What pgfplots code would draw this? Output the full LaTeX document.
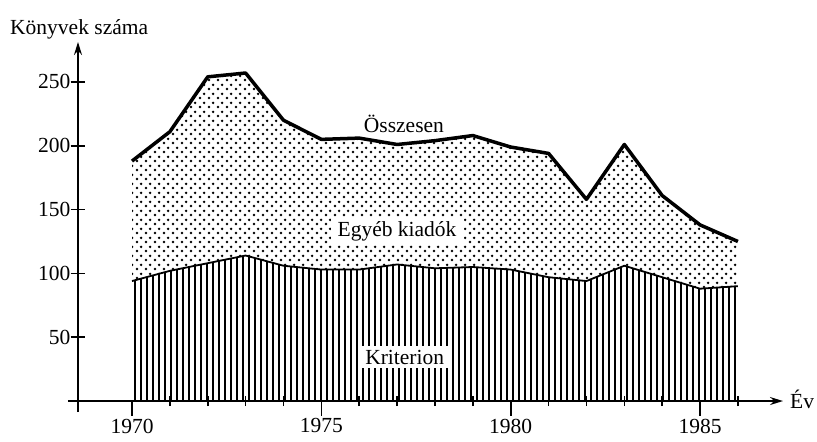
\documentclass[border=0pt]{standalone}
\usepackage{pgfplots}
\pgfplotsset{compat=1.18}
\usepackage{pgfplotstable}
\usepackage{fontspec}
\setmainfont{Liberation Serif}
\usetikzlibrary{patterns.meta,arrows.meta}

\tikzdeclarepattern{
  name=kvlines,
  bounding box={(0,0) and (6.4bp,6.4bp)},
  tile size={(6.4bp,6.4bp)},
  code={\fill (0,0) rectangle (2.1bp,6.4bp);}
}
\tikzdeclarepattern{
  name=kdots,
  bounding box={(0,0) and (9bp,9bp)},
  tile size={(9bp,9bp)},
  code={\fill (2.25bp,2.25bp) circle (1.5bp); \fill (6.75bp,6.75bp) circle (1.5bp);}
}

\pgfplotstableread{
year total krit
1970 188 94
1971 211 102
1972 254 108
1973 257 114
1974 220 106
1975 205 103
1976 206 103
1977 201 107
1978 204 104
1979 208 105
1980 199 103
1981 194 97
1982 158 94
1983 201 106
1984 161 97
1985 138 88
1986 125 90
}\booksdata

\newcommand{\bigf}{\fontsize{21.5bp}{24bp}\selectfont}

\begin{document}
\begin{tikzpicture}
\begin{axis}[
  at={(0,0)}, anchor=south west,
  scale only axis, width=705bp, height=370bp,
  xmin=1968.574, xmax=1987.19, ymin=-8.6, ymax=281.3,
  axis x line=middle, axis y line=left,
  axis on top, clip=false,
  axis line style={line width=1.6bp},
  x axis line style={-{Stealth[length=13bp,width=8bp]}},
  y axis line style={-{Stealth[length=13bp,width=8bp]}},
  xtick={1970,1975,1980,1985},
  minor xtick={1971,1972,1973,1974,1976,1977,1978,1979,1981,1982,1983,1984,1986},
  ytick={50,100,150,200,250},
  tick align=center,
  major tick length=15bp,
  minor tick length=10bp,
  every tick/.style={black, line width=1.6bp},
  major x tick style={yshift=-7bp},
  /pgf/number format/assume math mode=true,
  /pgf/number format/1000 sep={},
  xticklabel style={font=\bigf, anchor=north, inner sep=0pt, yshift=-10bp},
  yticklabel style={font=\bigf, anchor=east, inner sep=0pt},
]
\addplot[draw=none, fill=white, postaction={pattern=kdots}] table[x=year,y=total]{\booksdata} \closedcycle;
\addplot[draw=none, fill=white, postaction={pattern=kvlines}] table[x=year,y=krit]{\booksdata} \closedcycle;
\addplot[line width=1.8bp, line join=round] table[x=year,y=krit]{\booksdata};
\addplot[line width=3.5bp, line join=round] table[x=year,y=total]{\booksdata};
\node[font=\bigf, inner sep=0pt] at (axis cs:1977.18,217) {Összesen};
\node[font=\bigf, fill=white, inner xsep=7bp, inner ysep=4bp] at (axis cs:1977.0,133) {Egyéb kiadók};
\node[font=\bigf, fill=white, inner xsep=7bp, inner ysep=4bp] at (axis cs:1977.2,34.5) {Kriterion};
\end{axis}
\node[anchor=base west, inner sep=0pt, font=\bigf] at (-68bp,377bp) {Könyvek száma};
\node[anchor=base west, inner sep=0pt, font=\bigf] at (712bp,4bp) {Év};
\draw[line width=1.6bp] (-10bp,10.97bp) -- (0,10.97bp);
\pgfresetboundingbox
\path (-78bp,-30bp) rectangle (739bp,412bp);
\end{tikzpicture}
\end{document}
